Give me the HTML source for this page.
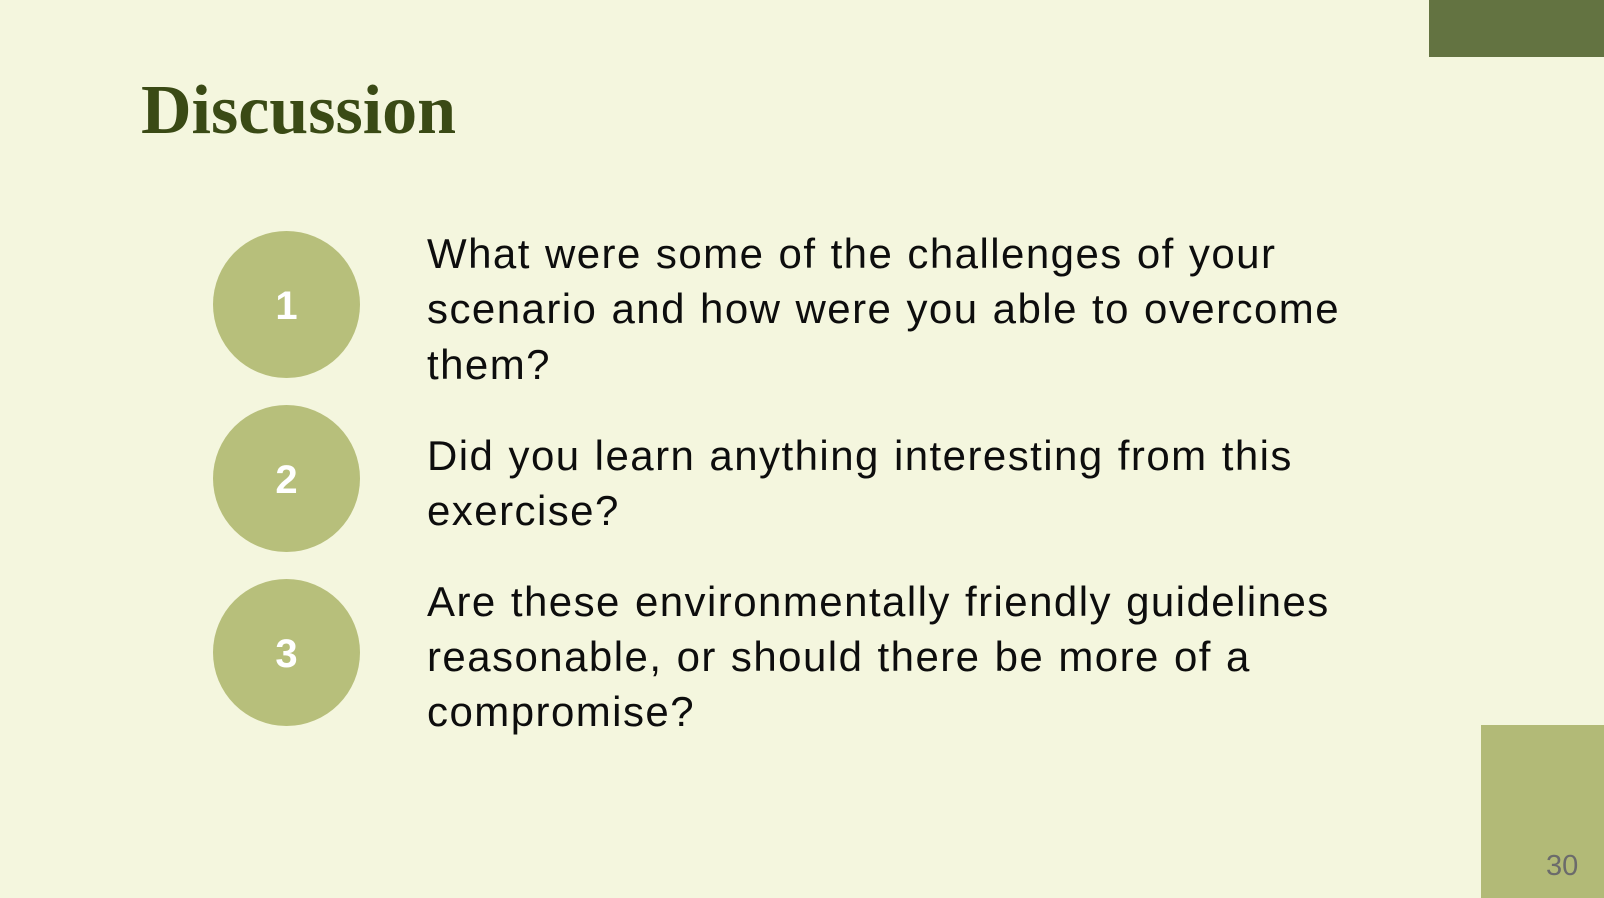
<!DOCTYPE html>
<html><head><meta charset="utf-8"><style>
html,body{margin:0;padding:0}
body{width:1604px;height:898px;background:#f4f6de;position:relative;overflow:hidden;font-family:"Liberation Sans",sans-serif}
.abs{position:absolute}
.title{left:141px;top:76px;font-family:"Liberation Serif",serif;font-weight:bold;font-size:70px;color:#3a4a15;line-height:1;letter-spacing:0px}
.circ{width:147px;height:147px;border-radius:50%;background:#b7bf7b;color:#fff;font-weight:bold;font-size:40px;display:flex;align-items:center;justify-content:center;padding-top:4px;box-sizing:border-box}
.ln{left:427px;font-size:42px;letter-spacing:1.45px;word-spacing:1px;color:#0d0d0d;line-height:1;white-space:nowrap}
</style></head><body>
<div class="abs" style="left:1429px;top:0;width:175px;height:57px;background:#637341"></div>
<div class="abs" style="left:1481px;top:725px;width:123px;height:173px;background:#b2ba77"></div>
<div class="abs" style="left:1546px;top:852px;font-size:29px;color:#6b6b6b;line-height:1">30</div>
<div class="abs title">Discussion</div>
<div class="abs circ" style="left:213px;top:231px">1</div>
<div class="abs circ" style="left:213px;top:405px">2</div>
<div class="abs circ" style="left:213px;top:579px">3</div>
<div>
<div class="abs ln" style="top:233px">What were some of the challenges of your</div>
<div class="abs ln" style="top:288px">scenario and how were you able to overcome</div>
<div class="abs ln" style="top:344px">them?</div>
</div>
<div>
<div class="abs ln" style="top:435px">Did you learn anything interesting from this</div>
<div class="abs ln" style="top:490px">exercise?</div>
</div>
<div>
<div class="abs ln" style="top:581px">Are these environmentally friendly guidelines</div>
<div class="abs ln" style="top:636px">reasonable, or should there be more of a</div>
<div class="abs ln" style="top:691px">compromise?</div>
</div>
</body></html>
